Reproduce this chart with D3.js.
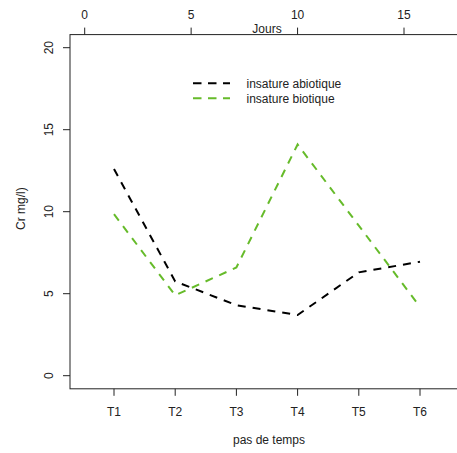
<!DOCTYPE html>
<html>
<head>
<meta charset="utf-8">
<script src="https://cdn.jsdelivr.net/npm/d3@7"></script>
<style>
  html, body { margin: 0; padding: 0; background: #fff; }
  svg { display: block; }
  text { font-family: "Liberation Sans", Arial, sans-serif; font-size: 12px; fill: #222; }
</style>
</head>
<body>
<svg id="chart" width="457" height="453"></svg>
<script>
const categories = ["T1", "T2", "T3", "T4", "T5", "T6"];
const abiotique = [12.6, 5.75, 4.3, 3.7, 6.3, 6.95];
const biotique = [9.85, 4.9, 6.6, 14.1, 9.15, 4.2];
const seriesNames = ["insature abiotique", "insature biotique"];
const seriesColors = ["#000000", "#66bb2a"];
const yTicks = [0, 5, 10, 15, 20];
const dayTicks = [0, 5, 10, 15];
const xTitle = "pas de temps";
const yTitle = "Cr mg/l)";
const topTitle = "Jours";

const svg = d3.select("#chart");
const box = { left: 70, top: 34.6, right: 466, bottom: 388.8 };

const x = d3.scaleLinear().domain([1, 6]).range([114, 420]);
const y = d3.scaleLinear().domain([0, 20]).range([375.7, 47.7]);
const xDay = d3.scaleLinear().domain([0, 15]).range([84.7, 404]);

// plot box
svg.append("rect")
  .attr("x", box.left).attr("y", box.top)
  .attr("width", box.right - box.left).attr("height", box.bottom - box.top)
  .attr("fill", "none").attr("stroke", "#222").attr("stroke-width", 1);

// left axis
const gy = svg.append("g");
yTicks.forEach(v => {
  gy.append("line").attr("x1", box.left).attr("x2", box.left - 7)
    .attr("y1", y(v)).attr("y2", y(v)).attr("stroke", "#222");
  gy.append("text")
    .attr("transform", `translate(49,${y(v)}) rotate(-90)`)
    .attr("text-anchor", "middle").attr("dy", "0.35em").text(v);
});
svg.append("text")
  .attr("transform", `translate(21,${(box.top + box.bottom) / 2 - 3}) rotate(-90)`)
  .attr("text-anchor", "middle").attr("dy", "0.35em").text(yTitle);

// bottom axis
const gx = svg.append("g");
categories.forEach((c, i) => {
  gx.append("line").attr("x1", x(i + 1)).attr("x2", x(i + 1))
    .attr("y1", box.bottom).attr("y2", box.bottom + 7).attr("stroke", "#222");
  gx.append("text").attr("x", x(i + 1)).attr("y", 411.7)
    .attr("text-anchor", "middle").attr("dy", "0.35em").text(c);
});
svg.append("text").attr("x", 269).attr("y", 440)
  .attr("text-anchor", "middle").attr("dy", "0.35em").text(xTitle);

// top axis
const gt = svg.append("g");
dayTicks.forEach(d => {
  gt.append("line").attr("x1", xDay(d)).attr("x2", xDay(d))
    .attr("y1", box.top).attr("y2", box.top - 7).attr("stroke", "#222");
  gt.append("text").attr("x", xDay(d)).attr("y", 15)
    .attr("text-anchor", "middle").attr("dy", "0.35em").text(d);
});
svg.append("text").attr("x", 267).attr("y", 29)
  .attr("text-anchor", "middle").attr("dy", "0.35em").text(topTitle);

// lines
const line = d3.line().x((d, i) => x(i + 1)).y(d => y(d));
[abiotique, biotique].forEach((s, k) => {
  svg.append("path").datum(s)
    .attr("d", line)
    .attr("fill", "none")
    .attr("stroke", seriesColors[k])
    .attr("stroke-width", 2)
    .attr("stroke-dasharray", "8,7");
});

// legend
const legY = [83.3, 98.3];
seriesNames.forEach((n, k) => {
  svg.append("line").attr("x1", 193).attr("x2", 230)
    .attr("y1", legY[k]).attr("y2", legY[k])
    .attr("stroke", seriesColors[k]).attr("stroke-width", 2)
    .attr("stroke-dasharray", "8.5,6.5");
  svg.append("text").attr("x", 246.5).attr("y", legY[k])
    .attr("dy", "0.35em").text(n);
});
</script>
</body>
</html>
